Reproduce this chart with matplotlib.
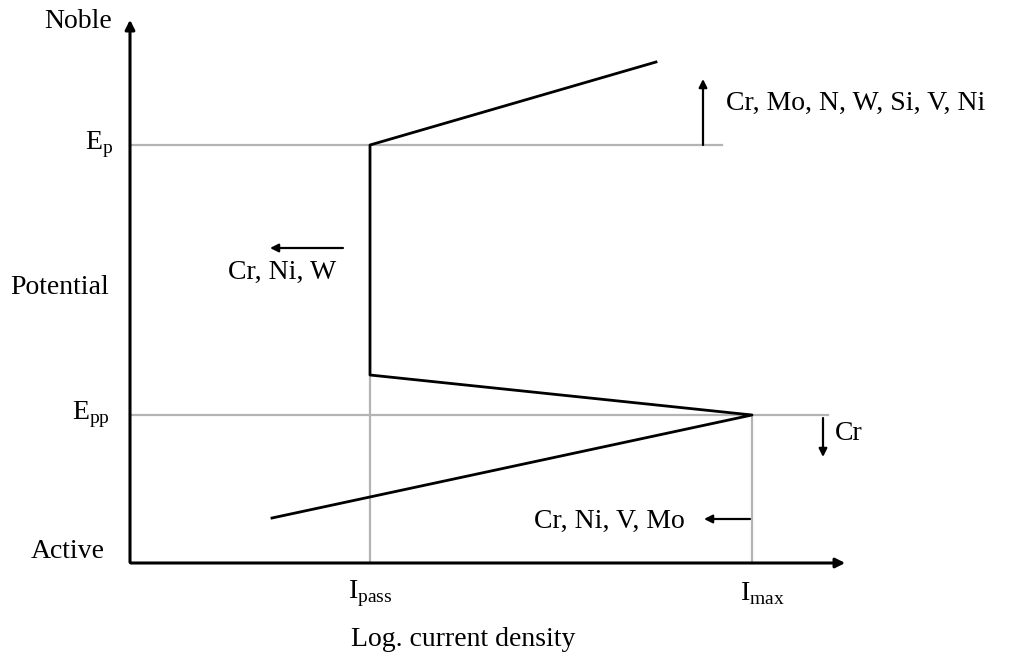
import numpy as np
from matplotlib import pyplot as plt

plt.rc('font', family='Liberation Serif', size=20)
plt.rcParams['mathtext.fontset'] = 'custom'
plt.rcParams['mathtext.rm'] = 'Liberation Serif'

# schematic polarisation curve (arbitrary units: log current, potential)
curve_logi = [142, 622, 240, 240, 526]
curve_pot = [45, 148, 188, 418, 501]

E_p = 418
E_pp = 148
I_pass = 240
I_max = 622

# alloying element arrows: (label, tail, head)
arrows = [
    ('Cr, Mo, N, W, Si, V, Ni', (573, 418), (573, 484)),
    ('Cr, Ni, W', (213, 315), (140, 315)),
    ('Cr', (693, 145), (693, 106)),
    ('Cr, Ni, V, Mo', (620, 44), (574, 44)),
]

fig = plt.figure(figsize=(10.16, 6.54), dpi=100)
ax = fig.add_axes([0, 0, 1, 1])
ax.set_xlim(-130, 886)
ax.set_ylim(-91, 563)
ax.axis('off')

grey = '#b4b4b4'
ax.plot([0, 592], [E_p, E_p], color=grey, lw=1.6)
ax.plot([0, 698], [E_pp, E_pp], color=grey, lw=1.6)
ax.plot([I_pass, I_pass], [0, 188], color=grey, lw=1.6)
ax.plot([I_max, I_max], [0, E_pp], color=grey, lw=1.6)

ax.plot(curve_logi, curve_pot, color='black', lw=2)

# axes with arrows
ax.annotate('', xy=(718, 0), xytext=(-2, 0),
            arrowprops=dict(arrowstyle='-|>', color='black', lw=2.2, mutation_scale=14))
ax.annotate('', xy=(0, 546), xytext=(0, -2),
            arrowprops=dict(arrowstyle='-|>', color='black', lw=2.2, mutation_scale=14))

for lab, tail, head in arrows:
    ax.annotate('', xy=head, xytext=tail,
                arrowprops=dict(arrowstyle='-|>', color='black', lw=1.6, mutation_scale=12,
                                shrinkA=0, shrinkB=0))

ax.text(596, 460, arrows[0][0], ha='left', va='center')
ax.text(152, 291, arrows[1][0], ha='center', va='center')
ax.text(705, 130, arrows[2][0], ha='left', va='center')
ax.text(555, 42, arrows[3][0], ha='right', va='center')

ax.text(-18, 541, 'Noble', ha='right', va='center')
ax.text(-17, E_p, r'E$_\mathrm{p}$', ha='right', va='center')
ax.text(-70, 275, 'Potential', ha='center', va='center')
ax.text(-20, E_pp, r'E$_\mathrm{pp}$', ha='right', va='center')
ax.text(-62, 11, 'Active', ha='center', va='center')
ax.text(I_pass, -31, r'I$_\mathrm{pass}$', ha='center', va='center')
ax.text(I_max + 10, -31, r'I$_\mathrm{max}$', ha='center', va='center')
ax.text(333, -77, 'Log. current density', ha='center', va='center')

plt.savefig('out.png', dpi=100)
